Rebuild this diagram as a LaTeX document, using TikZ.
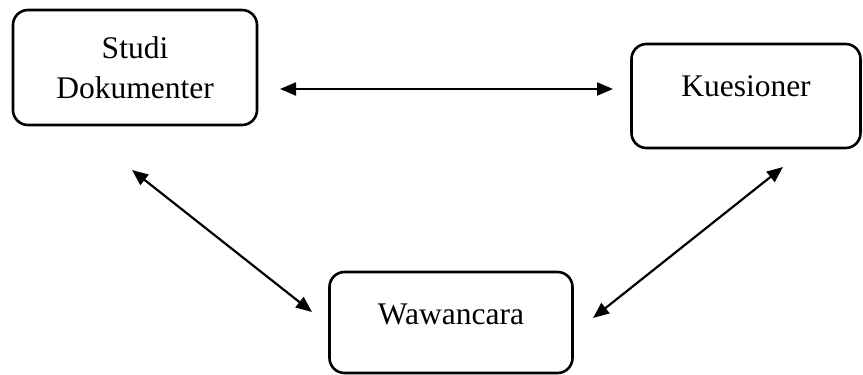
\documentclass[tikz,border=0pt]{standalone}
\usepackage{fontspec}
\setmainfont{Liberation Serif}
\usetikzlibrary{arrows.meta}
\begin{document}
\begin{tikzpicture}[x=1pt,y=-1pt,
  box/.style={draw=black,line width=2.6pt,rounded corners=15pt,inner sep=0pt},
  lbl/.style={font=\fontsize{31.5}{40}\selectfont,align=center,inner sep=0pt},
  link/.style={line width=2.2pt,{Triangle[length=16pt,width=13pt]}-{Triangle[length=16pt,width=13pt]}}]
\useasboundingbox (0,0) rectangle (863,375);
% boxes
\node[box,minimum width=244pt,minimum height=115pt] (sd) at (135,67.5) {};
\node[box,minimum width=229pt,minimum height=104pt] (kq) at (746,96) {};
\node[box,minimum width=243pt,minimum height=101pt] (ww) at (451,322.5) {};
% labels
\node[lbl] (sdt) at (sd.center) {Studi\\Dokumenter};
\node[lbl,anchor=base] (kqt) at (746,96) {Kuesioner};
\node[lbl,anchor=base] (wwt) at (451,324) {Wawancara};
% connector ends
\coordinate (a1) at (280,89);
\coordinate (a2) at (613,89);
\coordinate (b1) at (132,170);
\coordinate (b2) at (312,312);
\coordinate (c1) at (593,318);
\coordinate (c2) at (783,167);
\draw[link] (a1) -- (a2);
\draw[link] (b1) -- (b2);
\draw[link] (c1) -- (c2);
\end{tikzpicture}
\end{document}
